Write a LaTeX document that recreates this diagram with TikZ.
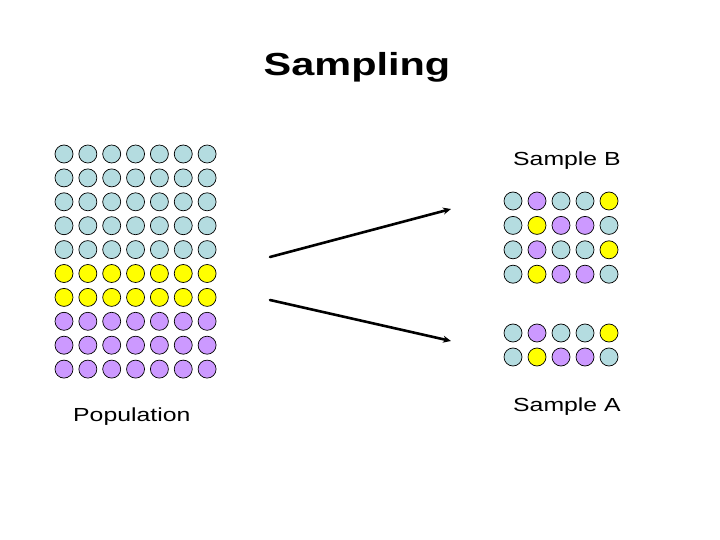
\documentclass[tikz,border=0pt]{standalone}
\usepackage{graphicx}
\usepackage{fontspec}
\setmainfont{Liberation Sans}
\usetikzlibrary{arrows.meta}
\definecolor{pale}{HTML}{B4DCE0}
\definecolor{lila}{HTML}{CC99FF}
\definecolor{amar}{HTML}{FFFF00}

\begin{document}
\begin{tikzpicture}[x=1bp,y=-1bp,>={Stealth[length=8bp,width=7bp]},line cap=round,
  bead/.style={circle,draw=black,line width=0.7bp,inner sep=0pt,minimum size=18bp},
  lbl/.style={anchor=base west,inner sep=0pt,font=\fontsize{19}{22}\selectfont}]
  \useasboundingbox (0,0) rectangle (720,540);
  % title
  \node[anchor=base,inner sep=0pt,font=\fontsize{32}{38}\selectfont\bfseries] (title)
        at (357,76) {\scalebox{1.3}[1]{Sampling}};
  % population
  \foreach \r in {0,...,9}{
    \ifnum\r<5 \def\col{pale}\else\ifnum\r<7 \def\col{amar}\else\def\col{lila}\fi\fi
    \foreach \c in {0,...,6}
      \node[bead,fill=\col] (pop-\r-\c) at (64+23.85*\c,154+23.9*\r) {};
  }
  % sample B
  \foreach \row [count=\r from 0] in {{pale,lila,pale,pale,amar},{pale,amar,lila,lila,pale},
                                      {pale,lila,pale,pale,amar},{pale,amar,lila,lila,pale}}{
    \foreach \col [count=\c from 0] in \row
      \node[bead,fill=\col] (smpB-\r-\c) at (513+24*\c,201+24.4*\r) {};
  }
  % sample A
  \foreach \row [count=\r from 0] in {{pale,lila,pale,pale,amar},{pale,amar,lila,lila,pale}}{
    \foreach \col [count=\c from 0] in \row
      \node[bead,fill=\col] (smpA-\r-\c) at (513+24*\c,333+24*\r) {};
  }
  % arrows
  \coordinate (fromB) at (270,257);
  \coordinate (toB) at (451,209);
  \coordinate (fromA) at (270,300);
  \coordinate (toA) at (451,341);
  \draw[->,line width=2.6bp] (fromB) -- (toB);
  \draw[->,line width=2.6bp] (fromA) -- (toA);
  % labels
  \node[lbl] (labB) at (513,166) {\scalebox{1.31}[1]{Sample B}};
  \node[lbl] (labA) at (513,411) {\scalebox{1.31}[1]{Sample A}};
  \node[lbl] (labP) at (73,421) {\scalebox{1.31}[1]{Population}};
\end{tikzpicture}
\end{document}
